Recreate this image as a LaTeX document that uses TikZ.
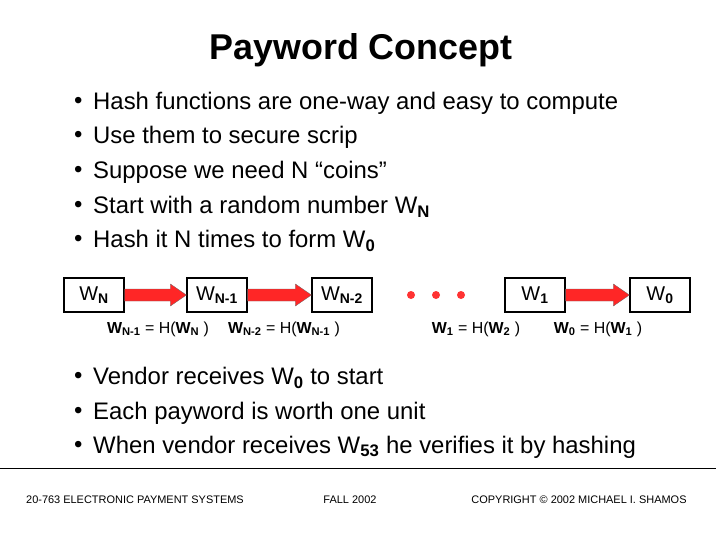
\documentclass[tikz,border=0pt]{standalone}
\usepackage{fontspec}
\setmainfont{Liberation Sans}
\begin{document}
\begin{tikzpicture}[x=1bp,y=-1bp,
  bul/.style={anchor=west,font=\fontsize{24}{26}\selectfont,inner sep=0},
  wbox/.style={draw,line width=1.2pt,minimum width=60bp,minimum height=34bp,font=\fontsize{20}{22}\selectfont,inner sep=0},
  lab/.style={font=\fontsize{16}{18}\selectfont,inner sep=0},
  red arrow/.style={draw=black!60,fill=red!85!white,line width=0.3pt},
  foot/.style={font=\fontsize{11}{12}\selectfont,inner sep=0}]
\useasboundingbox (0,0) rectangle (720,540);
\node[font=\fontsize{36}{38}\selectfont\bfseries,inner sep=0] (title) at (361,50) {Payword Concept};
\foreach \y/\t [count=\i] in {103/Hash functions are one-way and easy to compute,137/Use them to secure scrip,172/Suppose we need N “coins”,207/Start with a random number W\textsubscript{\textbf{N}},241/Hash it N times to form W\textsubscript{\textbf{0}}}{
  \node[bul] (d\i) at (74,\y) {•};
  \node[bul] (b\i) at (93,\y) {\t};
}
\node[wbox] (wn) at (94,295) {W\textsubscript{\textbf{N}}};
\node[wbox] (wn1) at (217,295) {W\textsubscript{\textbf{N-1}}};
\node[wbox] (wn2) at (342,295) {W\textsubscript{\textbf{N-2}}};
\node[wbox] (w1) at (535,295) {W\textsubscript{\textbf{1}}};
\node[wbox] (w0) at (660,295) {W\textsubscript{\textbf{0}}};
\foreach \a/\b in {wn/wn1,wn1/wn2,w1/w0}{
  \path (\a.east) coordinate (s) (\b.west) coordinate (e);
  \draw[red arrow] ([yshift=-6bp]s) -- ([xshift=-16bp,yshift=-6bp]e) -- ([xshift=-16bp,yshift=-11bp]e) -- (e) -- ([xshift=-16bp,yshift=11bp]e) -- ([xshift=-16bp,yshift=6bp]e) -- ([yshift=6bp]s) -- cycle;
}
\foreach \x [count=\i] in {411,436,461}{\fill[red!80!white] (\x,295) circle (4bp) coordinate (dot\i);}
\node[lab] (l1) at (158,329) {\textbf{W\textsubscript{N-1}} = H(\textbf{W\textsubscript{N}} )};
\node[lab] (l2) at (284,329) {\textbf{W\textsubscript{N-2}} = H(\textbf{W\textsubscript{N-1}} )};
\node[lab] (l3) at (476,329) {\textbf{W\textsubscript{1}} = H(\textbf{W\textsubscript{2}} )};
\node[lab] (l4) at (598,329) {\textbf{W\textsubscript{0}} = H(\textbf{W\textsubscript{1}} )};
\foreach \y/\t [count=\i] in {378/Vendor receives W\textsubscript{\textbf{0}} to start,413/Each payword is worth one unit,447/When vendor receives W\textsubscript{\textbf{53}} he verifies it by hashing}{
  \node[bul] (e\i) at (74,\y) {•};
  \node[bul] (c\i) at (93,\y) {\t};
}
\draw[line width=0.6pt] (0,468) coordinate (fl) -- (716,468) coordinate (fr);
\node[foot] (f1) at (135,500) {20-763 ELECTRONIC PAYMENT SYSTEMS};
\node[foot] (f2) at (350,500) {FALL 2002};
\node[foot] (f3) at (579,500) {COPYRIGHT © 2002 MICHAEL I. SHAMOS};
\end{tikzpicture}
\end{document}
